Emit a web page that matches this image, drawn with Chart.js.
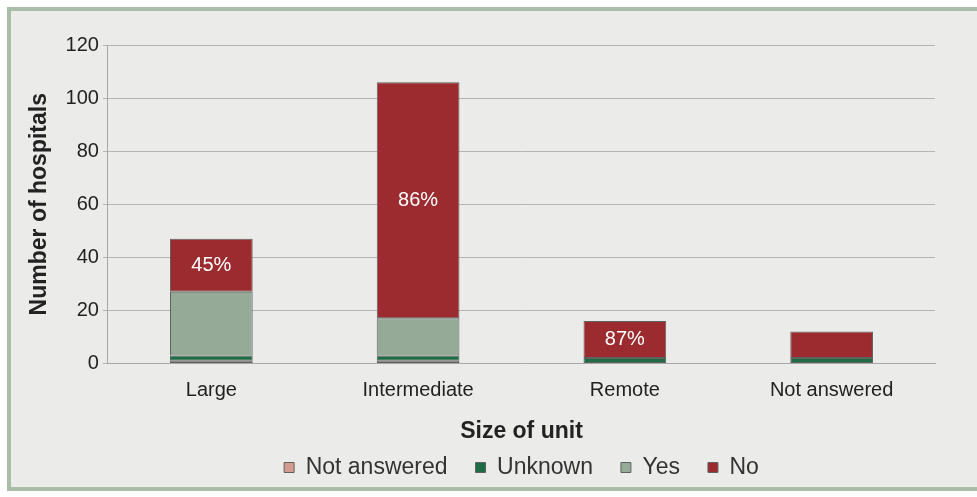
<!DOCTYPE html>
<html>
<head>
<meta charset="utf-8">
<script src="https://cdn.jsdelivr.net/npm/chart.js@4.4.1/dist/chart.umd.min.js"></script>
<style>
  html, body { margin: 0; padding: 0; background: #ffffff; }
  #frame {
    position: absolute; left: 7px; top: 7px; width: 990px; height: 476px;
    background: #ebecea; border: 4px solid #a9bda9;
  }
  #wrap { position: absolute; left: 0; top: 0; width: 977px; height: 497px; }
</style>
</head>
<body>
<div id="frame"></div>
<div id="wrap"><canvas id="chart"></canvas></div>
<script>
  const categories = ['Large', 'Intermediate', 'Remote', 'Not answered'];
  const notAnswered = [1, 1, 0, 0];
  const unknown = [2, 2, 2, 2];
  const yes = [24, 14, 0, 0];
  const no = [20, 89, 14, 10];
  const percentLabels = ['45%', '86%', '87%', ''];
  const yTicks = [0, 20, 40, 60, 80, 100, 120];

  const fontFamily = '"Liberation Sans", Arial, sans-serif';

  // writes the % share inside each "No" segment
  const percentPlugin = {
    id: 'percentPlugin',
    afterDatasetsDraw(chart) {
      const ctx = chart.ctx;
      const meta = chart.getDatasetMeta(3);
      ctx.save();
      ctx.fillStyle = '#ffffff';
      ctx.font = '20px ' + fontFamily;
      ctx.textAlign = 'center';
      ctx.textBaseline = 'middle';
      meta.data.forEach((bar, i) => {
        if (!percentLabels[i]) return;
        const y = (bar.y + bar.base) / 2;
        ctx.fillText(percentLabels[i], bar.x, y);
      });
      ctx.restore();
    }
  };

  const ds = (label, data, color) => ({
    label: label,
    data: data,
    backgroundColor: color,
    borderColor: '#5f6360',
    borderWidth: 1,
    borderSkipped: false,
    categoryPercentage: 1.0,
    barPercentage: 0.4
  });

  new Chart(document.getElementById('chart'), {
    type: 'bar',
    data: {
      labels: categories,
      datasets: [
        ds('Not answered', notAnswered, '#d49a8f'),
        ds('Unknown', unknown, '#1f6b45'),
        ds('Yes', yes, '#95ab98'),
        ds('No', no, '#9b2b2f')
      ]
    },
    options: {
      responsive: true,
      maintainAspectRatio: false,
      animation: false,
      layout: { padding: { left: 22, right: 42, top: 45, bottom: 8 } },
      plugins: {
        legend: {
          position: 'bottom',
          fullSize: false,
          labels: {
            boxWidth: 10,
            boxHeight: 10,
            padding: 28,
            color: '#333333',
            font: { size: 23, family: fontFamily }
          }
        },
        tooltip: { enabled: false }
      },
      scales: {
        x: {
          stacked: true,
          grid: { display: false, drawTicks: false },
          border: { color: '#a8a8a8' },
          ticks: { color: '#222222', padding: 15, font: { size: 20, family: fontFamily } },
          title: {
            display: true,
            text: 'Size of unit',
            color: '#222222',
            font: { size: 23, weight: 'bold', family: fontFamily },
            padding: { top: 0, bottom: -17 }
          }
        },
        y: {
          stacked: true,
          min: 0,
          max: 120,
          afterBuildTicks(axis) { axis.ticks = yTicks.map(v => ({ value: v })); },
          grid: { color: '#b4b4b4', tickLength: 5 },
          border: { color: '#a8a8a8' },
          ticks: { color: '#222222', padding: 4, font: { size: 20, family: fontFamily } },
          title: {
            display: true,
            text: 'Number of hospitals',
            color: '#222222',
            font: { size: 23, weight: 'bold', family: fontFamily },
            padding: { bottom: 8 }
          }
        }
      }
    },
    plugins: [percentPlugin]
  });
</script>
</body>
</html>
